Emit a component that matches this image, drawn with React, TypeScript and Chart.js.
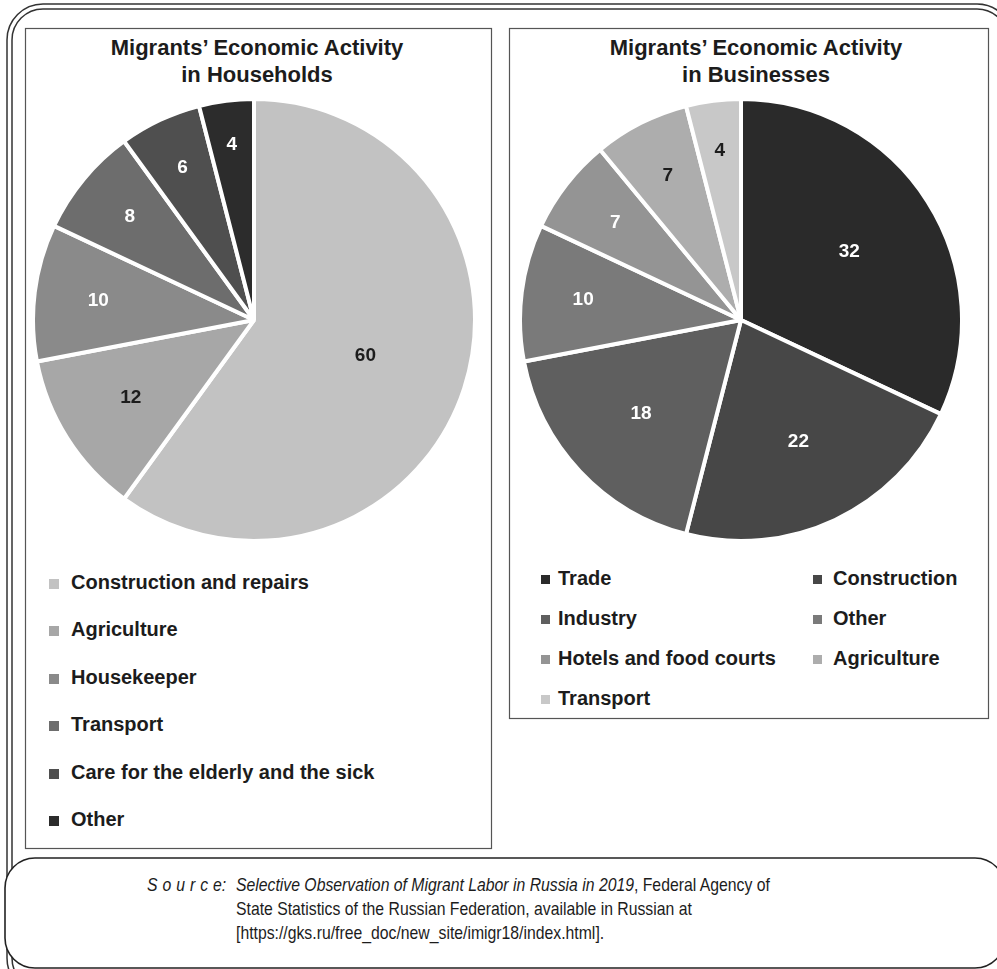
import React, { useEffect, useRef } from "react";
import { Chart, ArcElement, PieController } from "chart.js";

Chart.register(ArcElement, PieController);

// Households pie
const householdCategories = [
  "Construction and repairs",
  "Agriculture",
  "Housekeeper",
  "Transport",
  "Care for the elderly and the sick",
  "Other",
];
const householdValues = [60, 12, 10, 8, 6, 4];
const householdColors = ["#c2c2c2", "#a7a7a7", "#8a8a8a", "#6d6d6d", "#4f4f4f", "#2c2c2c"];
const householdTextColors = ["#1c1c1c", "#1c1c1c", "#ffffff", "#ffffff", "#ffffff", "#ffffff"];
const householdLabelRadius = [0.53, 0.66, 0.71, 0.73, 0.76, 0.8];

// Businesses pie
const businessCategories = [
  "Trade",
  "Construction",
  "Industry",
  "Other",
  "Hotels and food courts",
  "Agriculture",
  "Transport",
];
const businessValues = [32, 22, 18, 10, 7, 7, 4];
const businessColors = ["#2a2a2a", "#474747", "#5f5f5f", "#7a7a7a", "#949494", "#adadad", "#c8c8c8"];
const businessTextColors = ["#ffffff", "#ffffff", "#ffffff", "#ffffff", "#ffffff", "#1c1c1c", "#1c1c1c"];
const businessLabelRadius = [0.58, 0.61, 0.62, 0.72, 0.72, 0.73, 0.77];

const SANS = "'Liberation Sans', Arial, Helvetica, sans-serif";

// Writes each slice's value inside the slice, at a per-slice distance from the centre.
const sliceLabels = {
  id: "sliceLabels",
  afterDatasetsDraw(chart: any, _args: any, opts: any) {
    const { ctx } = chart;
    const meta = chart.getDatasetMeta(0);
    const values = chart.data.datasets[0].data as number[];
    ctx.save();
    ctx.font = `bold 19px ${SANS}`;
    ctx.textAlign = "center";
    ctx.textBaseline = "middle";
    meta.data.forEach((arc: any, i: number) => {
      const p = arc.getProps(["x", "y", "startAngle", "endAngle", "outerRadius"], true);
      const mid = (p.startAngle + p.endAngle) / 2;
      const r = p.outerRadius * opts.radius[i];
      ctx.fillStyle = opts.colors[i];
      ctx.fillText(String(values[i]), p.x + Math.cos(mid) * r, p.y + Math.sin(mid) * r);
    });
    ctx.restore();
  },
};

const PIE_SIZE = 446;

function Pie(props: {
  labels: string[];
  values: number[];
  colors: string[];
  textColors: string[];
  labelRadius: number[];
  left: number;
  top: number;
}) {
  const ref = useRef<HTMLCanvasElement | null>(null);
  useEffect(() => {
    if (!ref.current) return;
    const chart = new Chart(ref.current, {
      type: "pie",
      data: {
        labels: props.labels,
        datasets: [
          {
            data: props.values,
            backgroundColor: props.colors,
            borderColor: "#ffffff",
            borderWidth: 4,
          },
        ],
      },
      options: {
        animation: false,
        responsive: false,
        events: [],
        layout: { padding: 0 },
        plugins: {
          legend: { display: false },
          tooltip: { enabled: false },
          sliceLabels: { radius: props.labelRadius, colors: props.textColors },
        } as any,
      },
      plugins: [sliceLabels],
    });
    return () => chart.destroy();
  }, []);
  return (
    <canvas
      ref={ref}
      width={PIE_SIZE}
      height={PIE_SIZE}
      style={{ position: "absolute", left: props.left, top: props.top, width: PIE_SIZE, height: PIE_SIZE }}
    />
  );
}

function Title(props: { lines: string[]; center: number }) {
  return (
    <div
      style={{
        position: "absolute",
        left: props.center - 200,
        width: 400,
        top: 34,
        textAlign: "center",
        font: `bold 22px/27px ${SANS}`,
        color: "#1c1c1c",
      }}
    >
      {props.lines.map((l, i) => (
        <div key={i}>{l}</div>
      ))}
    </div>
  );
}

function LegendItem(props: { label: string; color: string; x: number; y: number; box: number; gap: number }) {
  return (
    <div
      style={{
        position: "absolute",
        left: props.x,
        top: props.y - 12,
        height: 24,
        display: "flex",
        alignItems: "center",
        whiteSpace: "nowrap",
        font: `bold 20px/24px ${SANS}`,
        color: "#1c1c1c",
      }}
    >
      <span
        style={{
          display: "inline-block",
          width: props.box,
          height: props.box,
          background: props.color,
          marginRight: props.gap,
          marginTop: 3,
        }}
      />
      {props.label}
    </div>
  );
}

// Condensed source note: regular sans squeezed horizontally
const narrowText: React.CSSProperties = {
  position: "absolute",
  top: 873,
  color: "#1c1c1c",
  whiteSpace: "nowrap",
  transform: "scaleX(0.83)",
  transformOrigin: "0 0",
};

export default function App() {
  const hhRows = [582, 629, 677, 724, 772, 819];
  const bizRows = [578, 618, 658, 698];
  const bizCols = [541, 813];
  return (
    <div
      style={{
        position: "absolute",
        left: 0,
        top: 0,
        width: 997,
        height: 969,
        overflow: "hidden",
        background: "#ffffff",
      }}
    >
      <svg width={997} height={969} style={{ position: "absolute", left: 0, top: 0 }}>
        <rect x={7} y={4} width={1006} height={990} rx={36} fill="none" stroke="#333" strokeWidth={1.5} />
        <rect x={12} y={9} width={996} height={980} rx={31} fill="none" stroke="#333" strokeWidth={1.5} />
        <rect x={25.5} y={28.5} width={466} height={820} fill="none" stroke="#555" strokeWidth={1.2} />
        <rect x={509.5} y={28.5} width={479} height={690} fill="none" stroke="#555" strokeWidth={1.2} />
        <rect x={5} y={858} width={1000} height={110} rx={30} fill="#ffffff" stroke="#222" strokeWidth={1.6} />
      </svg>

      <Title lines={["Migrants\u2019 Economic Activity", "in Households"]} center={257} />
      <Title lines={["Migrants\u2019 Economic Activity", "in Businesses"]} center={756} />

      <Pie
        labels={householdCategories}
        values={householdValues}
        colors={householdColors}
        textColors={householdTextColors}
        labelRadius={householdLabelRadius}
        left={254 - PIE_SIZE / 2}
        top={320 - PIE_SIZE / 2}
      />
      <Pie
        labels={businessCategories}
        values={businessValues}
        colors={businessColors}
        textColors={businessTextColors}
        labelRadius={businessLabelRadius}
        left={741 - PIE_SIZE / 2}
        top={320 - PIE_SIZE / 2}
      />

      {householdCategories.map((c, i) => (
        <LegendItem key={c} label={c} color={householdColors[i]} x={49} y={hhRows[i]} box={10} gap={12} />
      ))}
      {businessCategories.map((c, i) => (
        <LegendItem
          key={c}
          label={c}
          color={businessColors[i]}
          x={bizCols[i % 2]}
          y={bizRows[Math.floor(i / 2)]}
          box={9}
          gap={i % 2 === 0 ? 8 : 11}
        />
      ))}

      <div style={{ ...narrowText, left: 147, font: `italic 19px/24px ${SANS}` }}>
        <span style={{ letterSpacing: 6 }}>Sourc</span>e:
      </div>
      <div style={{ ...narrowText, left: 236, font: `19px/24px ${SANS}` }}>
        <i>Selective Observation of Migrant Labor in Russia in 2019</i>, Federal Agency of
        <br />
        State Statistics of the Russian Federation, available in Russian at
        <br />
        [https://gks.ru/free_doc/new_site/imigr18/index.html].
      </div>
    </div>
  );
}
